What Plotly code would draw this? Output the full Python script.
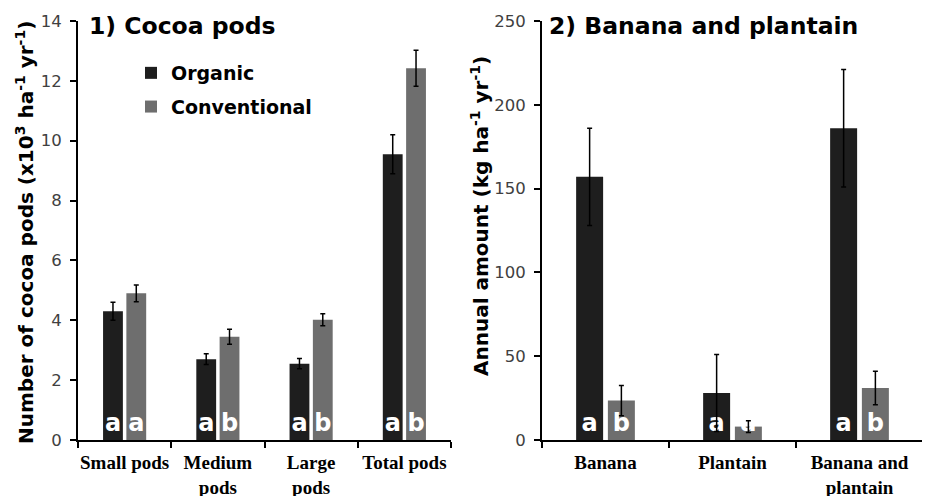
import plotly.graph_objects as go

# ---- Data ----
cocoa_categories = ["Small pods", "Medium<br>pods", "Large<br>pods", "Total pods"]
cocoa_organic = [4.3, 2.7, 2.55, 9.55]
cocoa_organic_err = [0.3, 0.18, 0.17, 0.65]
cocoa_conventional = [4.9, 3.45, 4.02, 12.42]
cocoa_conventional_err = [0.28, 0.25, 0.2, 0.6]
cocoa_organic_letters = ["a", "a", "a", "a"]
cocoa_conventional_letters = ["a", "b", "b", "b"]

banana_categories = ["Banana", "Plantain", "Banana and<br>plantain"]
banana_organic = [157, 28, 186]
banana_organic_err = [29, 23, 35]
banana_conventional = [23.5, 8, 31]
banana_conventional_err = [9, 3.5, 10]
banana_organic_letters = ["a", "a", "a"]
banana_conventional_letters = ["b", "a", "b"]

cocoa_yticks = [0, 2, 4, 6, 8, 10, 12, 14]
banana_yticks = [0, 50, 100, 150, 200, 250]

# ---- Styles ----
ORG = "#1e1e1e"
CONV = "#6e6e6e"
SANS = "DejaVu Sans"
letter_font = dict(family=SANS, size=24, color="white", weight="bold")
err_style = dict(type="data", color="black", thickness=1.5, width=2.5, visible=True)

# page body has an 8px margin: lay out in window pixels, shifted by it
OFF = 8
W, H = 930 - OFF, 496 - OFF


def px(x):
    return (x - OFF) / W


def py(y):
    return 1 - (y - OFF) / H


fig = go.Figure()


def add_bars(cats, vals, errs, letters, color, name, xa, ya, show, group):
    fig.add_trace(go.Bar(
        x=cats, y=vals, name=name, marker_color=color, marker_line_width=0,
        error_y=dict(array=errs, **err_style),
        text=letters, textposition="inside", insidetextanchor="start",
        textangle=0, textfont=letter_font, cliponaxis=False,
        xaxis=xa, yaxis=ya, showlegend=show, legendgroup=group,
        hoverinfo="x+y",
    ))


add_bars(cocoa_categories, cocoa_organic, cocoa_organic_err, cocoa_organic_letters,
         ORG, "Organic", "x", "y", True, "org")
add_bars(cocoa_categories, cocoa_conventional, cocoa_conventional_err, cocoa_conventional_letters,
         CONV, "Conventional", "x", "y", True, "conv")
add_bars(banana_categories, banana_organic, banana_organic_err, banana_organic_letters,
         ORG, "Organic", "x2", "y2", False, "org")
add_bars(banana_categories, banana_conventional, banana_conventional_err, banana_conventional_letters,
         CONV, "Conventional", "x2", "y2", False, "conv")

ydom = [py(440), py(21)]

xaxis_common = dict(
    type="category", showline=True, linecolor="black", linewidth=2,
    ticks="outside", tickson="boundaries", ticklen=6, tickwidth=2, tickcolor="black",
    tickfont=dict(family="Liberation Serif", size=19, color="black", weight="bold"),
    tickangle=0,
    showgrid=False, zeroline=False, automargin=False, fixedrange=True,
    ticklabelstandoff=4,
)
yaxis_common = dict(
    showline=True, linecolor="black", linewidth=2,
    ticks="outside", ticklen=6, tickwidth=2, tickcolor="black",
    tickfont=dict(family=SANS, size=16.5, color="#404040"),
    showgrid=False, zeroline=False, automargin=False, fixedrange=True,
    ticklabelstandoff=5,
)

fig.update_layout(
    width=W, height=H,
    margin=dict(l=0, r=0, t=0, b=0),
    paper_bgcolor="white", plot_bgcolor="white",
    barmode="group", bargap=0.5, bargroupgap=0.15,
    uniformtext=dict(minsize=24, mode="show"),
    xaxis=dict(domain=[px(78), px(451)], anchor="y", **xaxis_common),
    yaxis=dict(domain=ydom, anchor="x", range=[0, 14], tickvals=cocoa_yticks, **yaxis_common),
    xaxis2=dict(domain=[px(542), px(923)], anchor="y2", **xaxis_common),
    yaxis2=dict(domain=ydom, anchor="x2", range=[0, 250], tickvals=banana_yticks, **yaxis_common),
    legend=dict(
        x=px(131), y=py(54), xanchor="left", yanchor="top",
        font=dict(family=SANS, size=19, color="black", weight="bold"),
        bgcolor="rgba(0,0,0,0)", traceorder="grouped", tracegroupgap=6,
        itemwidth=30,
    ),
    showlegend=True,
)

ann = [
    dict(text="1) Cocoa pods", x=px(87), y=py(10), xref="paper", yref="paper",
         xanchor="left", yanchor="top", showarrow=False,
         font=dict(family=SANS, size=23.5, color="black", weight="bold")),
    dict(text="2) Banana and plantain", x=px(547), y=py(10), xref="paper", yref="paper",
         xanchor="left", yanchor="top", showarrow=False,
         font=dict(family=SANS, size=23.5, color="black", weight="bold")),
    dict(text="Number of cocoa pods (x10<sup>3</sup> ha<sup>-1</sup> yr<sup>-1</sup>)",
         x=px(25), y=py(233), xref="paper", yref="paper", textangle=-90,
         xanchor="center", yanchor="middle", showarrow=False,
         font=dict(family=SANS, size=20, color="black", weight="bold")),
    dict(text="Annual amount (kg ha<sup>-1</sup> yr<sup>-1</sup>)",
         x=px(480), y=py(216), xref="paper", yref="paper", textangle=-90,
         xanchor="center", yanchor="middle", showarrow=False,
         font=dict(family=SANS, size=20, color="black", weight="bold")),
]
fig.update_layout(annotations=ann)

fig.write_html("out.html")
